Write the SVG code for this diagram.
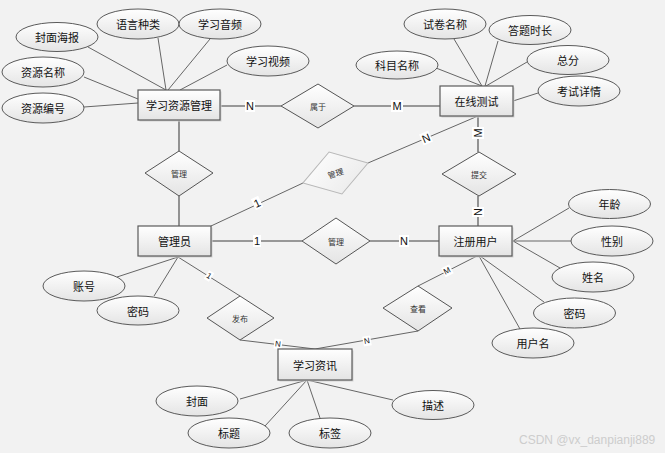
<svg xmlns="http://www.w3.org/2000/svg" width="665" height="453" viewBox="0 0 665 453">
<defs>
<linearGradient id="g" x1="0" y1="0" x2="0" y2="1">
<stop offset="0" stop-color="#ffffff"/>
<stop offset="1" stop-color="#e4e4e4"/>
</linearGradient>
<linearGradient id="g2" x1="0" y1="0" x2="1" y2="1">
<stop offset="0" stop-color="#ffffff"/>
<stop offset="1" stop-color="#e8e8e8"/>
</linearGradient>
<style>
text{font-family:"Microsoft YaHei","Noto Sans CJK SC","Liberation Sans",sans-serif;text-anchor:middle;dominant-baseline:central;fill:#111}
.ent rect.b{fill:url(#g);stroke:#5a5a5a;stroke-width:1.2}
.ent rect.s{fill:#d2d2d2}
.ent text{font-size:11px}
.att ellipse{fill:url(#g);stroke:#5a5a5a;stroke-width:1}
.att text{font-size:11px}
.rel polygon{fill:url(#g);stroke:#555;stroke-width:1}
.rel text{font-size:8px;fill:#333}
.rel.light polygon{fill:url(#g2);stroke:#b8b8b8}
#connectors line{stroke:#666;stroke-width:1}
#connectors line.r{stroke:#7a7a7a;stroke-width:1.6}
#connectors rect{fill:#fff}
#connectors text{font-size:11px;font-family:"Liberation Sans",Arial,sans-serif}
#connectors text.sm{font-size:8px}
.wm{font-family:"Liberation Sans",Arial,sans-serif;font-size:12px;fill:#cdcdcd;text-anchor:start}
</style>
</defs>
<rect width="665" height="453" fill="#f2f2f2"/>

<g id="connectors">
<line x1="88" y1="47" x2="166" y2="90"/>
<line x1="158" y1="38" x2="166" y2="90"/>
<line x1="210" y1="39" x2="168" y2="90"/>
<line x1="227" y1="65" x2="180" y2="90"/>
<line x1="84" y1="77" x2="138" y2="99"/>
<line x1="84" y1="107" x2="138" y2="103"/>
<line x1="436" y1="68" x2="482" y2="86"/>
<line x1="454" y1="39" x2="482" y2="86"/>
<line x1="498" y1="41" x2="485" y2="86"/>
<line x1="527" y1="62" x2="486" y2="86"/>
<line x1="538" y1="93" x2="513" y2="101"/>
<line x1="569" y1="208" x2="513" y2="241"/>
<line x1="513" y1="241" x2="571" y2="241"/>
<line x1="513" y1="241" x2="560" y2="268"/>
<line x1="480" y1="256" x2="544" y2="302"/>
<line x1="479" y1="256" x2="520" y2="329"/>
<line x1="117" y1="277" x2="178" y2="257"/>
<line x1="154" y1="296" x2="178" y2="257"/>
<line x1="240" y1="399" x2="307" y2="380"/>
<line x1="265" y1="426" x2="307" y2="380"/>
<line x1="320" y1="418" x2="307" y2="380"/>
<line x1="393" y1="400" x2="307" y2="380"/>

<line class="r" x1="220" y1="106" x2="281" y2="106"/>
<rect x="245" y="100" width="10" height="12"/><text x="250" y="106">N</text>
<line class="r" x1="354" y1="106" x2="440" y2="106"/>
<rect x="391" y="100" width="12" height="12"/><text x="397" y="106">M</text>

<line class="r" x1="179" y1="120" x2="179" y2="151"/>
<line class="r" x1="179" y1="196" x2="179" y2="226"/>

<line x1="211" y1="226" x2="303" y2="183"/>
<g transform="translate(257,203) rotate(-25)"><rect x="-4" y="-6" width="8" height="12"/><text x="0" y="0">1</text></g>
<line x1="368" y1="163" x2="478" y2="116"/>
<g transform="translate(426,138) rotate(-23)"><rect x="-5" y="-6" width="10" height="12"/><text x="0" y="0">N</text></g>

<line class="r" x1="478" y1="116" x2="478" y2="152"/>
<g transform="translate(478,133) rotate(-90)"><rect x="-6" y="-6" width="12" height="12"/><text x="0" y="0">M</text></g>
<line class="r" x1="478" y1="196" x2="478" y2="226"/>
<g transform="translate(478,212) rotate(-90)"><rect x="-5" y="-6" width="10" height="12"/><text x="0" y="0">N</text></g>

<line class="r" x1="211" y1="241" x2="302" y2="241"/>
<rect x="253" y="235" width="8" height="12"/><text x="257" y="241">1</text>
<line class="r" x1="370" y1="241" x2="439" y2="241"/>
<rect x="399" y="235" width="10" height="12"/><text x="404" y="241">N</text>

<line x1="178" y1="257" x2="240" y2="296"/>
<g transform="translate(209,276) rotate(32)"><rect x="-3" y="-5" width="6" height="10"/><text class="sm" x="0" y="0">1</text></g>
<line x1="240" y1="340" x2="315" y2="349"/>
<g transform="translate(278,344) rotate(7)"><rect x="-4" y="-5" width="8" height="10"/><text class="sm" x="0" y="0">N</text></g>
<line x1="418" y1="331" x2="315" y2="349"/>
<g transform="translate(367,341) rotate(-10)"><rect x="-4" y="-5" width="8" height="10"/><text class="sm" x="0" y="0">N</text></g>
<line x1="418" y1="286" x2="477" y2="256"/>
<g transform="translate(447,271) rotate(-27)"><rect x="-4" y="-5" width="9" height="10"/><text class="sm" x="0" y="0">M</text></g>
</g>

<g id="e-resource" class="ent"><rect class="s" x="139.5" y="91.5" width="82" height="30"/><rect class="b" x="138" y="90" width="82" height="30"/><text x="179" y="105">学习资源管理</text></g>
<g id="e-test" class="ent"><rect class="s" x="441.5" y="87.5" width="73" height="30"/><rect class="b" x="440" y="86" width="73" height="30"/><text x="476.5" y="101">在线测试</text></g>
<g id="e-admin" class="ent"><rect class="s" x="139.5" y="227.5" width="73" height="30"/><rect class="b" x="138" y="226" width="73" height="30"/><text x="174.5" y="241">管理员</text></g>
<g id="e-user" class="ent"><rect class="s" x="440.5" y="227.5" width="73" height="30"/><rect class="b" x="439" y="226" width="73" height="30"/><text x="475.5" y="241">注册用户</text></g>
<g id="e-news" class="ent"><rect class="s" x="279.5" y="350.5" width="74" height="31"/><rect class="b" x="278" y="349" width="74" height="31"/><text x="315" y="364.5">学习资讯</text></g>

<g id="r-belong" class="rel"><polygon points="281,106 318,84 354,106 318,128"/><text x="318" y="106">属于</text></g>
<g id="r-manage1" class="rel"><polygon points="145,173 179,151 213,173 179,196"/><text x="179" y="173">管理</text></g>
<g id="r-manage2" class="rel light"><g transform="translate(335.5,173) rotate(-17)"><polygon points="-34,0 0,-22 34,0 0,22"/><text x="0" y="0">管理</text></g></g>
<g id="r-submit" class="rel"><polygon points="442,174 479,152 516,174 479,196"/><text x="479" y="174">提交</text></g>
<g id="r-manage3" class="rel"><polygon points="302,241 336,218 370,241 336,264"/><text x="336" y="241">管理</text></g>
<g id="r-publish" class="rel"><polygon points="207,318 240,296 274,318 240,340"/><text x="240" y="318">发布</text></g>
<g id="r-view" class="rel"><polygon points="383,308 418,286 452,308 418,331"/><text x="418" y="308">查看</text></g>

<g id="a-poster" class="att"><ellipse cx="57" cy="37" rx="41" ry="14.5"/><text x="57" y="37">封面海报</text></g>
<g id="a-lang" class="att"><ellipse cx="138" cy="24" rx="41" ry="15"/><text x="138" y="24">语言种类</text></g>
<g id="a-audio" class="att"><ellipse cx="220" cy="24" rx="41" ry="15"/><text x="220" y="24">学习音频</text></g>
<g id="a-video" class="att"><ellipse cx="268" cy="61" rx="41" ry="15"/><text x="268" y="61">学习视频</text></g>
<g id="a-resname" class="att"><ellipse cx="43" cy="72" rx="41" ry="15"/><text x="43" y="72">资源名称</text></g>
<g id="a-resno" class="att"><ellipse cx="43" cy="108" rx="41" ry="15"/><text x="43" y="108">资源编号</text></g>

<g id="a-paper" class="att"><ellipse cx="445" cy="24" rx="41" ry="15"/><text x="445" y="24">试卷名称</text></g>
<g id="a-duration" class="att"><ellipse cx="530" cy="30" rx="41" ry="14.5"/><text x="530" y="30">答题时长</text></g>
<g id="a-subject" class="att"><ellipse cx="397" cy="65" rx="41" ry="14"/><text x="397" y="65">科目名称</text></g>
<g id="a-score" class="att"><ellipse cx="568" cy="60" rx="41" ry="14.5"/><text x="568" y="60">总分</text></g>
<g id="a-detail" class="att"><ellipse cx="579" cy="91" rx="41" ry="15"/><text x="579" y="91">考试详情</text></g>

<g id="a-age" class="att"><ellipse cx="609.5" cy="204" rx="41" ry="14.5"/><text x="609.5" y="204">年龄</text></g>
<g id="a-gender" class="att"><ellipse cx="612" cy="241" rx="41" ry="15"/><text x="612" y="241">性别</text></g>
<g id="a-name" class="att"><ellipse cx="593" cy="277" rx="41" ry="15"/><text x="593" y="277">姓名</text></g>
<g id="a-upwd" class="att"><ellipse cx="574.5" cy="313" rx="41" ry="15"/><text x="574.5" y="313">密码</text></g>
<g id="a-uname" class="att"><ellipse cx="533" cy="343" rx="41" ry="15"/><text x="533" y="343">用户名</text></g>

<g id="a-account" class="att"><ellipse cx="84" cy="286" rx="41" ry="15"/><text x="84" y="286">账号</text></g>
<g id="a-apwd" class="att"><ellipse cx="138" cy="310.5" rx="41" ry="14.5"/><text x="138" y="310.5">密码</text></g>

<g id="a-cover" class="att"><ellipse cx="197" cy="401" rx="41" ry="15"/><text x="197" y="401">封面</text></g>
<g id="a-title" class="att"><ellipse cx="229" cy="433" rx="41" ry="15"/><text x="229" y="433">标题</text></g>
<g id="a-tag" class="att"><ellipse cx="330" cy="433" rx="41" ry="15"/><text x="330" y="433">标签</text></g>
<g id="a-desc" class="att"><ellipse cx="433" cy="405" rx="41" ry="14.5"/><text x="433" y="405">描述</text></g>

<text class="wm" x="519" y="440">CSDN @vx_danpianji889</text>
</svg>
